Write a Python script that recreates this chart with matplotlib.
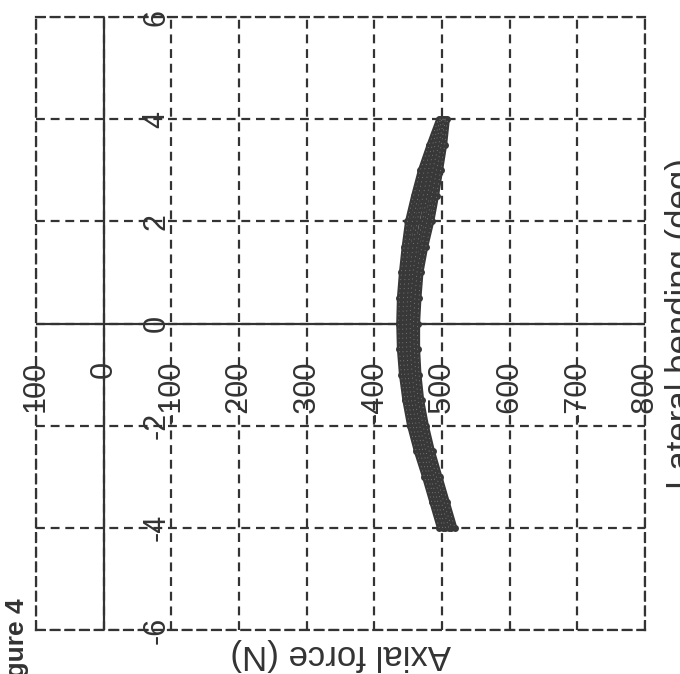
import matplotlib
matplotlib.use("Agg")
import matplotlib.pyplot as plt

plt.rcParams['font.family'] = ['Liberation Sans', 'DejaVu Sans']

# ---- data ----
axial_ticks = [100, 0, -100, -200, -300, -400, -500, -600, -700, -800]
axial_labels = ["100", "0", "-100", "-200", "-300", "-400", "-500", "-600", "-700", "-800"]
bend_ticks = [-6, -4, -2, 0, 2, 4, 6]
bend_labels = ["-6", "-4", "-2", "0", "2", "4", "6"]

angle_pts = [-4.0, -3.5, -3.0, -2.5, -2.0, -1.5, -1.0, -0.5, 0.0,
             0.5, 1.0, 1.5, 2.0, 2.5, 3.0, 3.5, 4.0]

force_c1_fwd = [-496, -485, -474, -462, -452, -445, -440, -437, -436,
                -437, -440, -444, -449, -458, -468, -481, -495]
force_c1_bwd = [-510, -499, -488, -476, -467, -460, -456, -453, -453,
                -454, -457, -463, -471, -478, -486, -495, -503]
force_c2_fwd = [-501, -490, -479, -467, -457, -450, -445, -442, -442,
                -443, -446, -450, -456, -465, -474, -486, -498]
force_c2_bwd = [-514, -503, -492, -481, -472, -465, -461, -459, -458,
                -460, -463, -470, -478, -485, -492, -499, -505]
force_c3_fwd = [-505, -494, -483, -472, -462, -455, -450, -448, -447,
                -449, -452, -457, -463, -472, -480, -490, -500]
force_c3_bwd = [-519, -508, -497, -486, -477, -470, -466, -464, -464,
                -466, -469, -476, -485, -492, -498, -504, -508]

cycles = [(force_c1_fwd, force_c1_bwd),
          (force_c2_fwd, force_c2_bwd),
          (force_c3_fwd, force_c3_bwd)]

# ---- figure ----
W, H = 680, 674
fig = plt.figure(figsize=(W / 100, H / 100), dpi=100)
fig.patch.set_facecolor('white')

left, right, top, bottom = 36, 645, 17, 630
ax = fig.add_axes([left / W, 1 - bottom / H, (right - left) / W, (bottom - top) / H])

ax.set_xlim(axial_ticks[0], axial_ticks[-1])
ax.set_ylim(bend_ticks[0], bend_ticks[-1])
ax.set_xticks(axial_ticks)
ax.set_yticks(bend_ticks)
ax.tick_params(length=0, labelbottom=False, labelleft=False)

ink = '#333333'
dash = (0, (4, 2.6))
ax.grid(True, linestyle=dash, color=ink, linewidth=1.6)
for s in ax.spines.values():
    s.set_linestyle(dash)
    s.set_color(ink)
    s.set_linewidth(1.6)

ax.axhline(0, color=ink, linewidth=1.6, zorder=2)
ax.axvline(0, color=ink, linewidth=1.6, zorder=2)

for fwd, bwd in cycles:
    xs = list(fwd) + list(bwd)[::-1]
    ys = list(angle_pts) + list(angle_pts)[::-1]
    ax.plot(xs, ys, color='#383838', linewidth=3.6, marker='o',
            markersize=5, markeredgewidth=0, zorder=3)
    ax.plot(xs, ys, color='#8a8a8a', linewidth=0.5,
            linestyle=(0, (1.5, 5)), zorder=4)

tick_fs = 22
# axial force tick labels (below the horizontal zero line, rotated)
for v, lab in zip(axial_ticks, axial_labels):
    ax.annotate(lab, xy=(v, 0), xytext=(0, -37), textcoords='offset pixels',
                rotation=90, ha='center', va='top', fontsize=tick_fs,
                color=ink, zorder=5, annotation_clip=False)
# bending tick labels (right of the vertical zero line, rotated)
for v, lab in zip(bend_ticks, bend_labels):
    ax.annotate(lab, xy=(0, v), xytext=(53, 0), textcoords='offset pixels',
                rotation=90, ha='center', va='center', fontsize=tick_fs,
                color=ink, zorder=5, annotation_clip=False)

# axis titles
fig.text((left + right) / 2 / W, 1 - 655 / H, "Axial force (N)", rotation=180,
         ha='center', va='center', fontsize=25, color=ink)
fig.text(682 / W, 1 - (top + bottom) / 2 / H, "Lateral bending (deg)", rotation=90,
         ha='center', va='center', fontsize=25, color=ink)
fig.text(17 / W, 1 - 598 / H, "Figure 4", rotation=90, ha='center', va='top',
         fontsize=19, color=ink, fontweight='bold')

fig.savefig("out.png", dpi=100)
